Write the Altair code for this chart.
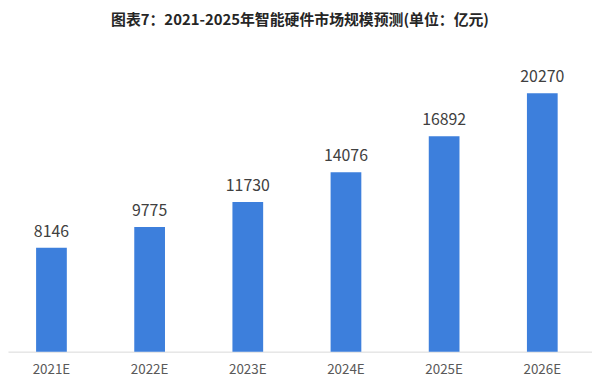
import altair as alt
import pandas as pd

years = ["2021E", "2022E", "2023E", "2024E", "2025E", "2026E"]
values = [8146, 9775, 11730, 14076, 16892, 20270]

df = pd.DataFrame({"year": years, "value": values})

FONT = "Noto Sans CJK SC"

x = alt.X(
    "year:N",
    sort=years,
    title=None,
    scale=alt.Scale(paddingInner=0.687, paddingOuter=0.318, align=0.45),
    axis=alt.Axis(
        labelAngle=0,
        labelFont=FONT,
        labelFontSize=13.5,
        labelColor="#595959",
        labelPadding=11,
        ticks=False,
        domainColor="#d9d9d9",
        domainWidth=1,
        grid=False,
    ),
)
y = alt.Y(
    "value:Q",
    title=None,
    scale=alt.Scale(domain=[0, 23560], nice=False),
    axis=None,
)

bars = alt.Chart(df).mark_bar(color="#3D7FDC").encode(x=x, y=y)
labels = alt.Chart(df).mark_text(
    font=FONT, fontSize=16, color="#404040", baseline="alphabetic", dy=-11
).encode(x=x, y=y, text="value:Q")

chart = (
    alt.layer(bars, labels)
    .properties(
        width=589,
        height=303,
        background="white",
        padding={"left": 0, "right": 0, "top": 4, "bottom": 0},
        title=alt.Title(
            "图表7：2021-2025年智能硬件市场规模预测(单位：亿元)",
            font=FONT,
            fontSize=15,
            fontWeight="bold",
            color="#262626",
            offset=23,
            anchor="middle",
        ),
    )
    .configure_view(stroke=None)
)

chart.save("out.html", embed_options={"renderer": "svg", "actions": False})
